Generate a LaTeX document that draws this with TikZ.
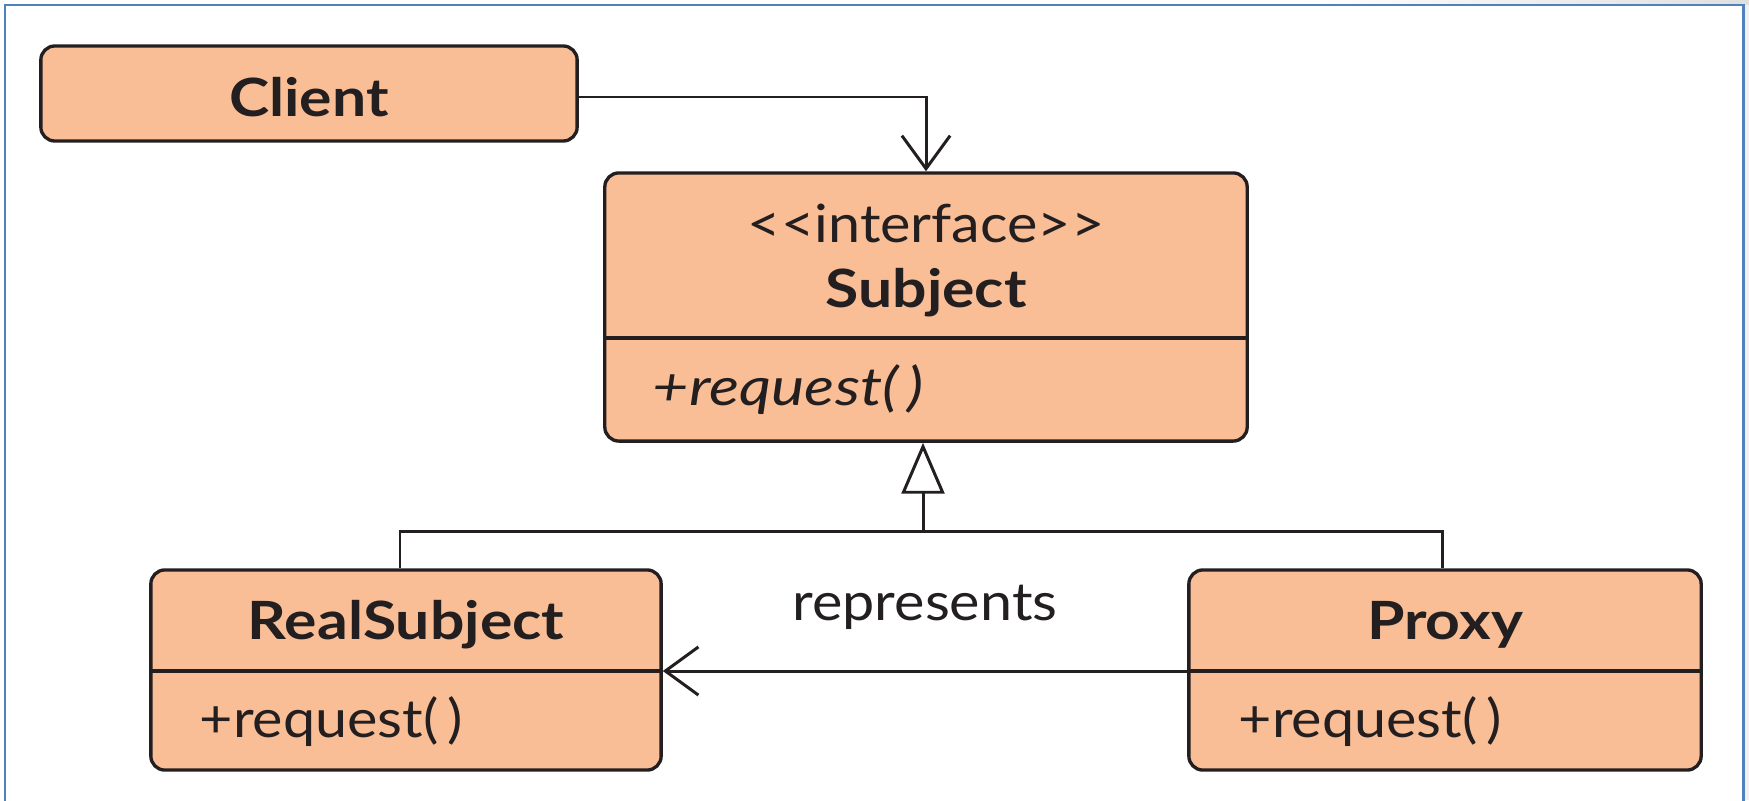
\documentclass[tikz,border=0pt]{standalone}
\usepackage{fontspec}
\setmainfont{Lato}[UprightFeatures={FakeStretch=1.09},
  BoldFeatures={FakeStretch=1.15}, ItalicFeatures={FakeStretch=1.19}]
\usetikzlibrary{arrows.meta}
\definecolor{umlfill}{HTML}{FABE96}
\definecolor{umlline}{HTML}{231F20}
\definecolor{frameblue}{HTML}{4F81BD}
\newcommand{\umlfont}{\fontsize{15}{18}\selectfont}
\newcommand{\op}{+request(\kern2.6pt)}
\begin{document}
\begin{tikzpicture}[x=0.01cm, y=-0.01cm,
  classbox/.style={draw=umlline, fill=umlfill, line width=0.95pt,
    rounded corners=0.14cm, inner sep=0pt},
  title/.style={font=\umlfont\bfseries, text=umlline, inner sep=0pt, anchor=base},
  member/.style={font=\umlfont, text=umlline, inner sep=0pt, anchor=base west},
  divider/.style={draw=umlline, line width=0.9pt},
  conn/.style={draw=umlline, line width=0.85pt},
  assoc/.style={conn, -{Straight Barb[length=9.4pt, width=13.7pt]}},
  gen/.style={conn, -{Triangle[open, fill=white, length=14.5pt, width=12.2pt]}}]

\useasboundingbox (0,0) rectangle (1749,800);

% page frame and its soft shadow
\fill[gray!12] (1745,0) rectangle (1749,800);
\shade[left color=white, right color=gray!25] (1300,0) rectangle (1749,4);
\draw[frameblue, line width=0.85pt] (5,5) rectangle (1743,830);

% class boxes
\node[classbox, minimum width=5.36cm, minimum height=0.95cm] (client) at (309,93.5) {};
\node[classbox, minimum width=6.42cm, minimum height=2.68cm] (subject) at (926,307) {};
\node[classbox, minimum width=5.10cm, minimum height=2.00cm] (real) at (406,670) {};
\node[classbox, minimum width=5.12cm, minimum height=2.00cm] (proxy) at (1445,670) {};

% compartment dividers
\coordinate (subjdiv) at (926,338);
\coordinate (lowdiv) at (926,671);
\draw[divider] (subject.west |- subjdiv) -- (subject.east |- subjdiv);
\draw[divider] (real.west |- lowdiv) -- (real.east |- lowdiv);
\draw[divider] (proxy.west |- lowdiv) -- (proxy.east |- lowdiv);

% texts
\node[title] (clientname) at (309,116) {Client};
\node[title, font=\umlfont] (stereo) at (926,242) {<\kern0pt<interface>\kern0pt>};
\node[title] (subjname) at (926,307) {Subject};
\node[member, font=\umlfont\itshape] (subjop) at (652,405) {\op};
\node[title] (realname) at (406,639) {RealSubject};
\node[member] (realop) at (199,737) {\op};
\node[title] (proxyname) at (1445,639) {Proxy};
\node[member] (proxyop) at (1238,737) {\op};

% connectors
\coordinate (joint) at (923,531);
\draw[assoc] ([yshift=-0.035cm]client.east) -| (subject.north);
\draw[conn] ([xshift=-0.06cm]real.north) |- (joint) -| ([xshift=-0.03cm]proxy.north);
\draw[gen] (joint) -- (joint |- subject.south);
\draw[assoc] (proxy.west |- lowdiv) -- node[midway, anchor=base, yshift=0.5cm,
  inner sep=0pt, font=\umlfont, text=umlline] (replabel) {represents} (real.east |- lowdiv);
\end{tikzpicture}
\end{document}
